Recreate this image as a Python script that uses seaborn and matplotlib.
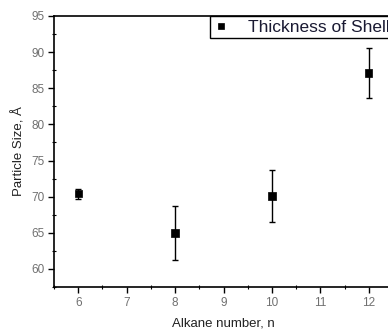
import matplotlib
matplotlib.use("Agg")
import matplotlib.pyplot as plt
import seaborn as sns
import pandas as pd
from matplotlib.ticker import MultipleLocator

alkane_n = [6, 8, 10, 12]
particle_size = [70.4, 64.95, 70.1, 87.1]
size_err = [0.7, 3.75, 3.55, 3.45]
series_label = "Thickness of Shell"

sns.set_theme(style="white")
plt.rcParams['font.family'] = ['Liberation Sans', 'DejaVu Sans']

df = pd.DataFrame({"n": alkane_n, "size": particle_size, "err": size_err, "series": series_label})

fig = plt.figure(figsize=(3.88, 3.29), dpi=100)
ax = fig.add_axes([54/388, 1-287/329, 339/388, (287-16)/329])

ax.errorbar(df["n"], df["size"], yerr=df["err"], fmt='none', ecolor='black',
            elinewidth=1.0, capsize=2.5, capthick=1.0, zorder=2)
sns.scatterplot(data=df, x="n", y="size", hue="series", palette=["black"], marker='s',
                s=28, edgecolor='black', linewidth=0.5, ax=ax, zorder=3)

ax.set_xlim(5.5, 12.5)
ax.set_ylim(57.5, 95)
ax.xaxis.set_major_locator(MultipleLocator(1))
ax.xaxis.set_minor_locator(MultipleLocator(0.5))
ax.set_yticks([60, 65, 70, 75, 80, 85, 90, 95])
ax.yaxis.set_minor_locator(MultipleLocator(2.5))

for s in ['left', 'bottom', 'top']:
    ax.spines[s].set_color('black')
    ax.spines[s].set_linewidth(1.2)
ax.spines['right'].set_visible(False)

ax.tick_params(axis='both', which='major', direction='out', length=4, width=1,
               color='black', labelsize=8.5, labelcolor='#707070', pad=3)
ax.tick_params(axis='both', which='minor', direction='inout', length=3, width=0.8, color='black')
ax.tick_params(bottom=True, left=True, top=False, right=False, which='both')

ax.set_xlabel("Alkane number, n", fontsize=9.5, color='#222222', labelpad=6)
ax.set_ylabel("Particle Size, Å", fontsize=9.5, color='#222222', labelpad=4)

leg = ax.legend(loc='upper left', bbox_to_anchor=(210/388, 1-16/329), bbox_transform=fig.transFigure,
                fancybox=False, frameon=True, edgecolor='black', framealpha=1,
                fontsize=12.5, markerscale=0.8, handlelength=0.9, handletextpad=1.1,
                borderpad=0.2, borderaxespad=0)
leg.get_frame().set_linewidth(1.0)
for t in leg.get_texts():
    t.set_color('#1a1a33')

fig.savefig("out.png", dpi=100)
